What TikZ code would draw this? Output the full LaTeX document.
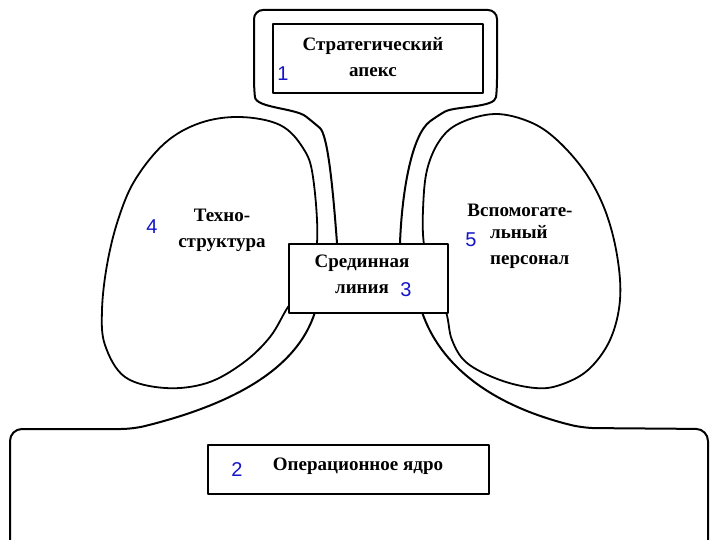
\documentclass[tikz,border=0pt]{standalone}
\usepackage{fontspec}
\setmainfont{Liberation Serif}
\newfontfamily\numfont{Liberation Sans}
\definecolor{numblue}{RGB}{20,20,200}
\begin{document}
\begin{tikzpicture}[x=1pt,y=-1pt,line join=round,
  outline/.style={draw=black,line width=2pt},
  lobe/.style={draw=black,line width=1.8pt},
  box/.style={draw=black,line width=2pt,fill=white,rectangle,inner sep=0pt,anchor=north west},
  lbl/.style={font=\fontsize{19}{26}\selectfont\bfseries,inner sep=0pt},
  num/.style={font=\numfont\fontsize{20}{20}\selectfont,text=numblue,inner sep=0pt}]
\useasboundingbox (0,0) rectangle (720,540);
\fill[white] (0,0) rectangle (720,540);

% technostructure lobe
\draw[lobe] plot[smooth cycle,tension=0.6] coordinates {
 (240,117) (280,125) (303,148) (313,177) (317,243) (305,285) (288,307)
 (270,337) (243,363) (207,383) (165,388) (125,377) (105,345) (102,310)
 (107,265) (118,220) (135,180) (165,143) (200,123)};
% support staff lobe
\draw[lobe] plot[smooth cycle,tension=0.6] coordinates {
 (495,114) (530,122) (557,140) (585,172) (605,210) (617,255) (620,300)
 (610,340) (588,370) (560,385) (535,388) (500,380) (467,363) (452,340)
 (446,312) (432,280) (424,245) (423,210) (427,170) (440,140) (460,123)};

% outer contour: apex and neck
\draw[outline,rounded corners=9pt] (337,243) .. controls (333,190) and (328,135) .. (313,122)
  .. controls (295,108) and (256,108) .. (254,88)
  -- (254,10) -- (497,10) -- (497,88)
  .. controls (495,108) and (455,106) .. (437,116)
  .. controls (412,135) and (402,190) .. (400,243);
% outer contour: operating core
\draw[outline,rounded corners=12pt] (315,312) .. controls (300,360) and (250,400) .. (133,429)
  -- (10,429) -- (10,541);
\draw[outline,rounded corners=12pt] (422,312) .. controls (440,365) and (490,405) .. (583,428)
  -- (708,429) -- (708,541);

% boxes
\node[box,minimum width=210pt,minimum height=69pt] (apex) at (272,23) {};
\node[box,minimum width=159pt,minimum height=69pt] (mid) at (288,243) {};
\node[box,minimum width=281pt,minimum height=49pt] (core) at (207,444) {};

% texts
\node[lbl,align=center] (apextxt) at (373,57) {Стратегический\\апекс};
\node[lbl,align=center] (techtxt) at (222,230) {Техно-\\структура};
\node[lbl,align=center] (midtxt) at (362,274) {Срединная\\линия};
\node[lbl] (suptxt1) at (520,210) {Вспомогате-};
\node[lbl,align=left,anchor=west] (suptxt2) at (490,247) {льный\\персонал};
\node[lbl] (coretxt) at (358,466) {Операционное ядро};

% numbers
\node[num] (n1) at (283,74) {1};
\node[num] (n2) at (237,470) {2};
\node[num] (n3) at (406,290) {3};
\node[num] (n4) at (152,227) {4};
\node[num] (n5) at (471,240) {5};
\end{tikzpicture}
\end{document}
